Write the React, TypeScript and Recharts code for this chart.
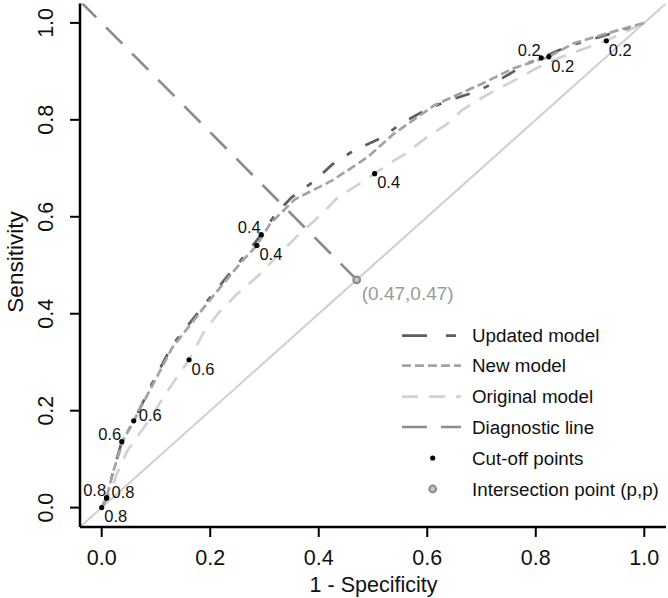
import { ComposedChart, Line, Scatter, XAxis, YAxis, Label } from "recharts";

// ROC curves (1 - specificity, sensitivity)
const updatedFpr = [0, 0.009, 0.02, 0.037, 0.06, 0.09, 0.13, 0.19, 0.23, 0.26, 0.294, 0.32, 0.35, 0.39, 0.425, 0.465, 0.512, 0.556, 0.6, 0.64, 0.695, 0.74, 0.782, 0.81, 0.86, 0.93, 1];
const updatedTpr = [0, 0.02, 0.07, 0.136, 0.18, 0.25, 0.335, 0.42, 0.475, 0.515, 0.563, 0.605, 0.64, 0.672, 0.708, 0.737, 0.761, 0.795, 0.822, 0.84, 0.86, 0.887, 0.915, 0.928, 0.952, 0.975, 1];

const newFpr = [0, 0.009, 0.02, 0.04, 0.059, 0.09, 0.13, 0.19, 0.23, 0.26, 0.286, 0.31, 0.356, 0.425, 0.49, 0.538, 0.613, 0.648, 0.7, 0.758, 0.824, 0.87, 0.93, 1];
const newTpr = [0, 0.02, 0.07, 0.14, 0.179, 0.245, 0.33, 0.415, 0.47, 0.51, 0.541, 0.585, 0.636, 0.675, 0.723, 0.771, 0.83, 0.848, 0.874, 0.906, 0.93, 0.958, 0.978, 1];

const originalFpr = [0, 0.012, 0.028, 0.047, 0.084, 0.127, 0.161, 0.187, 0.214, 0.249, 0.289, 0.328, 0.36, 0.405, 0.435, 0.475, 0.503, 0.53, 0.56, 0.6, 0.635, 0.664, 0.7, 0.727, 0.767, 0.815, 0.86, 0.93, 1];
const originalTpr = [0, 0.02, 0.07, 0.117, 0.175, 0.25, 0.305, 0.36, 0.4, 0.44, 0.479, 0.524, 0.56, 0.605, 0.64, 0.668, 0.689, 0.71, 0.73, 0.765, 0.79, 0.82, 0.845, 0.862, 0.885, 0.915, 0.935, 0.963, 1];

// cut-off points
const cutoffLabels = ["0.8", "0.6", "0.4", "0.2"];
const updatedCutFpr = [0.009, 0.037, 0.294, 0.81];
const updatedCutTpr = [0.02, 0.136, 0.563, 0.928];
const newCutFpr = [0.009, 0.059, 0.286, 0.824];
const newCutTpr = [0.02, 0.179, 0.541, 0.93];
const originalCutFpr = [0, 0.161, 0.503, 0.93];
const originalCutTpr = [0, 0.305, 0.689, 0.963];

const intersection = [0.47, 0.47];
const diagonalX = [-0.04, 1.04];
const diagnosticX = [-0.04, 0.47];
const diagnosticY = [1.045, 0.47];

const ticks = [0, 0.2, 0.4, 0.6, 0.8, 1];

const FONT = "'Liberation Sans', Arial, Helvetica, sans-serif";
const txt = (size: number) => ({ fontSize: `${size}px`, fontFamily: FONT });

const toPts = (xs: number[], ys: number[]) => xs.map((x, i) => ({ x, y: ys[i] }));
const toCuts = (xs: number[], ys: number[], sides: string[]) =>
  xs.map((x, i) => ({ x, y: ys[i], label: cutoffLabels[i], side: sides[i] }));

const updatedData = toPts(updatedFpr, updatedTpr);
const newData = toPts(newFpr, newTpr);
const originalData = toPts(originalFpr, originalTpr);
const diagonalData = toPts(diagonalX, diagonalX);
const diagnosticData = toPts(diagnosticX, diagnosticY);

// label placement around each dot: al = above-left, ar = right, br = below-right
const cutData = [
  ...toCuts(updatedCutFpr, updatedCutTpr, ["al", "al", "al", "al"]),
  ...toCuts(newCutFpr, newCutTpr, ["ar", "ar", "br", "br"]),
  ...toCuts(originalCutFpr, originalCutTpr, ["br", "br", "br", "br"]),
];
const interData = [{ x: intersection[0], y: intersection[1] }];

const CutDot = (props: any) => {
  const { cx, cy, payload } = props;
  let tx = cx + 2.5;
  let ty = cy + 14.8;
  let anchor: "start" | "end" = "start";
  if (payload.side === "al") {
    tx = cx - 0.5;
    ty = cy - 1.8;
    anchor = "end";
  } else if (payload.side === "ar") {
    tx = cx + 5;
    ty = cy - 0.3;
  }
  return (
    <g>
      <circle cx={cx} cy={cy} r={2.6} fill="#000" />
      <text x={tx} y={ty} textAnchor={anchor} style={txt(16.5)} fill="#111">
        {payload.label}
      </text>
    </g>
  );
};

const InterDot = (props: any) => {
  const { cx, cy, payload } = props;
  return (
    <g>
      <circle cx={cx} cy={cy} r={3.4} fill="#c4c4c4" stroke="#8a8a8a" strokeWidth={2} />
      <text x={cx + 5} y={cy + 20} style={txt(19)} fill="#9a9a9a">
        ({payload.x.toFixed(2)},{payload.y.toFixed(2)})
      </text>
    </g>
  );
};

const XTick = (props: any) => {
  const { x, y, payload } = props;
  return (
    <text x={x} y={y + 26} textAnchor="middle" style={txt(21.5)} fill="#111">
      {payload.value.toFixed(1)}
    </text>
  );
};

const YTick = (props: any) => {
  const { x, y, payload } = props;
  const bx = x - 15;
  return (
    <text x={bx} y={y} transform={`rotate(-90, ${bx}, ${y})`} textAnchor="middle" style={txt(21.5)} fill="#111">
      {payload.value.toFixed(1)}
    </text>
  );
};

const legendItems = [
  { name: "Updated model", kind: "line", color: "#5e5e5e", dash: "25 19 10 19" },
  { name: "New model", kind: "line", color: "#a3a3a3", dash: "9 4" },
  { name: "Original model", kind: "line", color: "#d2d2d2", dash: "16 11" },
  { name: "Diagnostic line", kind: "line", color: "#8c8c8c", dash: "25 14" },
  { name: "Cut-off points", kind: "dot" },
  { name: "Intersection point (p,p)", kind: "ring" },
];
const legendRows = [335.7, 365.7, 396.7, 427, 458, 489];

export default function App() {
  return (
    <div style={{ position: "absolute", left: 0, top: 0, width: 668, height: 598, background: "#fff" }}>
      <ComposedChart width={668} height={598} margin={{ top: 3.5, right: 2, bottom: 11, left: 10 }}>
        <XAxis
          dataKey="x"
          type="number"
          domain={[-0.04, 1.04]}
          allowDataOverflow
          ticks={ticks}
          height={60}
          tickSize={10}
          tick={<XTick />}
          axisLine={{ stroke: "#000", strokeWidth: 2.5 }}
          tickLine={{ stroke: "#000", strokeWidth: 2 }}
        >
          <Label
            content={() => (
              <text x={373.5} y={591.5} textAnchor="middle" style={txt(21.5)} fill="#111">
                1 - Specificity
              </text>
            )}
          />
        </XAxis>
        <YAxis
          dataKey="y"
          type="number"
          domain={[-0.04, 1.04]}
          allowDataOverflow
          ticks={ticks}
          width={70}
          tickSize={10}
          tick={<YTick />}
          axisLine={{ stroke: "#000", strokeWidth: 2.5 }}
          tickLine={{ stroke: "#000", strokeWidth: 2 }}
        >
          <Label
            content={() => (
              <text x={23} y={262} transform="rotate(-90, 23, 262)" textAnchor="middle" style={txt(22.5)} fill="#111">
                Sensitivity
              </text>
            )}
          />
        </YAxis>
        <Line data={diagonalData} dataKey="y" type="linear" stroke="#cfcfcf" strokeWidth={2} dot={false} activeDot={false} isAnimationActive={false} />
        <Line data={diagnosticData} dataKey="y" type="linear" stroke="#8c8c8c" strokeWidth={2.7} strokeDasharray="23 14" dot={false} activeDot={false} isAnimationActive={false} />
        <Line data={originalData} dataKey="y" type="linear" stroke="#d2d2d2" strokeWidth={2.7} strokeDasharray="16 11" dot={false} activeDot={false} isAnimationActive={false} />
        <Line data={updatedData} dataKey="y" type="linear" stroke="#5e5e5e" strokeWidth={2.7} strokeDasharray="15 15 6 15" dot={false} activeDot={false} isAnimationActive={false} />
        <Line data={newData} dataKey="y" type="linear" stroke="#a3a3a3" strokeWidth={2.7} strokeDasharray="9 4" dot={false} activeDot={false} isAnimationActive={false} />
        <Scatter data={interData} dataKey="y" shape={<InterDot />} isAnimationActive={false} />
        <Scatter data={cutData} dataKey="y" shape={<CutDot />} isAnimationActive={false} />
      </ComposedChart>
      <svg width={668} height={598} style={{ position: "absolute", left: 0, top: 0, pointerEvents: "none" }}>
        {legendItems.map((item, i) => {
          const y = legendRows[i];
          return (
            <g key={item.name}>
              {item.kind === "line" && (
                <line x1={402} x2={461} y1={y} y2={y} stroke={item.color} strokeWidth={2.7} strokeDasharray={item.dash} />
              )}
              {item.kind === "dot" && <circle cx={432.7} cy={y} r={2.6} fill="#000" />}
              {item.kind === "ring" && <circle cx={432.7} cy={y} r={3.4} fill="#c4c4c4" stroke="#8a8a8a" strokeWidth={2} />}
              <text x={472} y={y + 6.7} style={txt(18.8)} fill="#111">
                {item.name}
              </text>
            </g>
          );
        })}
      </svg>
    </div>
  );
}
